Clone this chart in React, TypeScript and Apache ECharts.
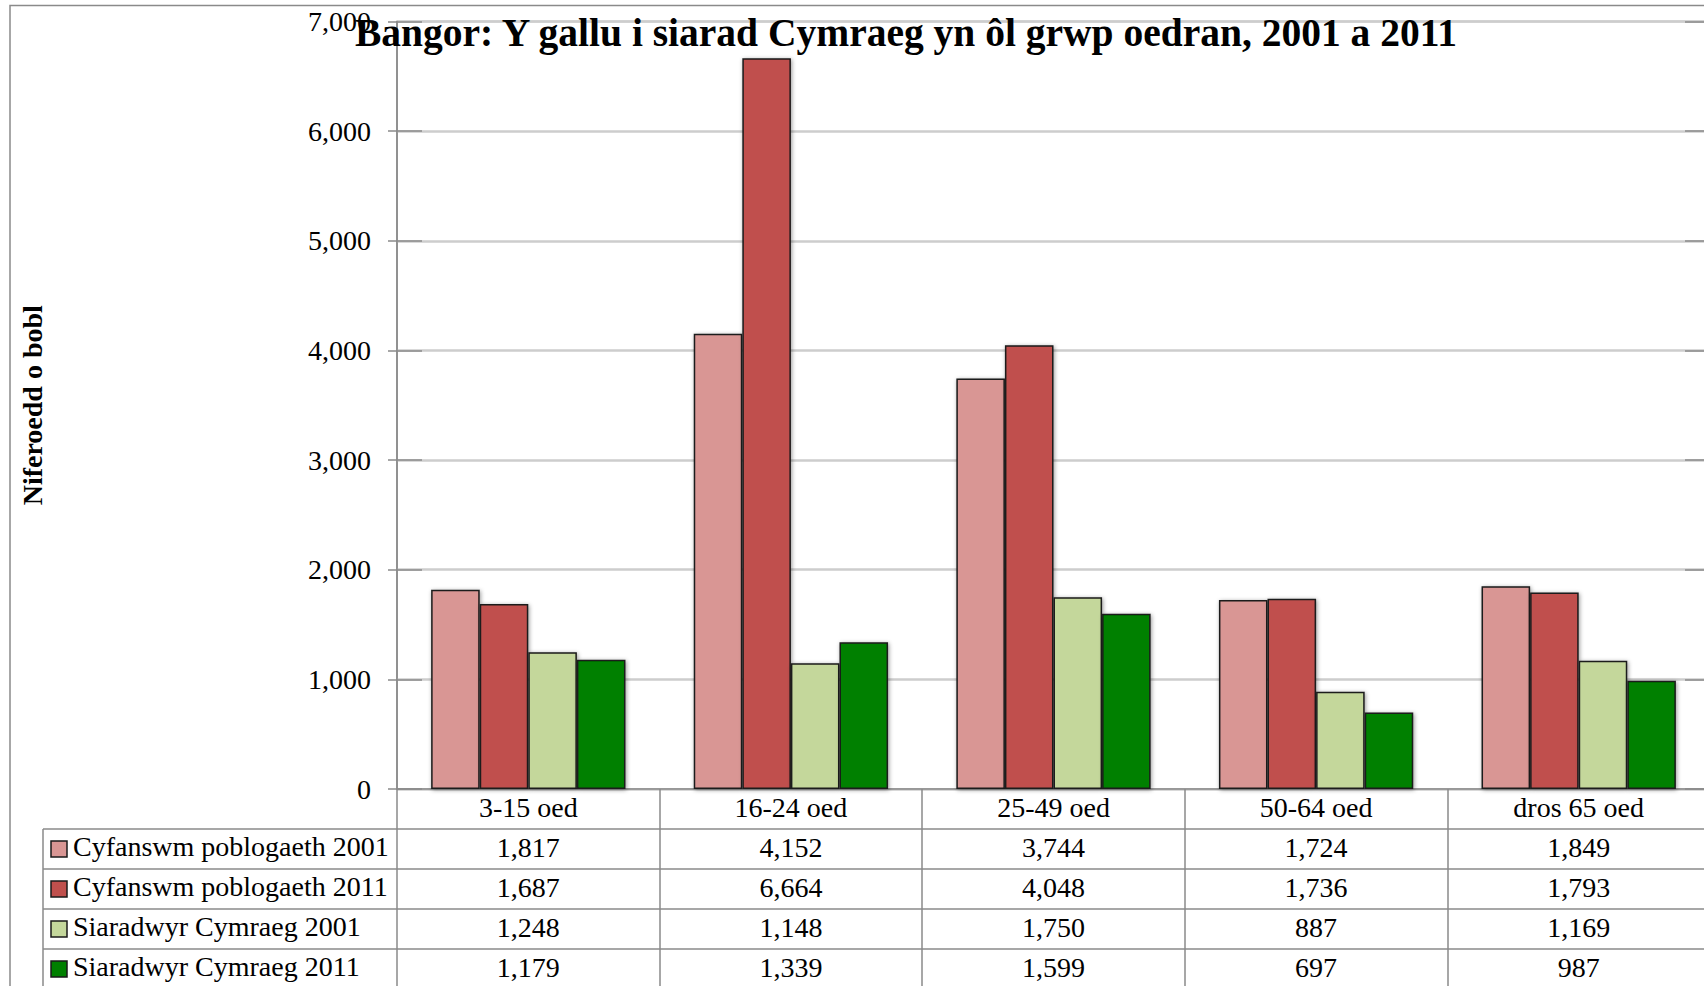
import React, { useEffect, useRef } from "react";
import * as echarts from "echarts";

const title = "Bangor: Y gallu i siarad Cymraeg yn ôl grwp oedran, 2001 a 2011";
const yAxisName = "Niferoedd o bobl";
const categories = ["3-15 oed", "16-24 oed", "25-49 oed", "50-64 oed", "dros 65 oed"];
const seriesNames = [
  "Cyfanswm poblogaeth 2001",
  "Cyfanswm poblogaeth 2011",
  "Siaradwyr Cymraeg 2001",
  "Siaradwyr Cymraeg 2011",
];
const pop2001 = [1817, 4152, 3744, 1724, 1849];
const pop2011 = [1687, 6664, 4048, 1736, 1793];
const cym2001 = [1248, 1148, 1750, 887, 1169];
const cym2011 = [1179, 1339, 1599, 697, 987];
const seriesColors = ["#D99694", "#C0504D", "#C4D79B", "#008000"];
const yMin = 0;
const yMax = 7000;
const yInterval = 1000;

const allSeries = [pop2001, pop2011, cym2001, cym2011];

const FONT = "'Liberation Serif', 'Times New Roman', serif";
const GRID_LEFT = 397;
const GRID_TOP = 21.5;
const GRID_H = 767.5;
const GRID_W = 1313;
const AXIS_Y = GRID_TOP + GRID_H;
const ROW_H = 40;
const TABLE_LEFT = 43;
const LINE_COLOR = "#8a8a8a";

const fmt = (v: number) => v.toLocaleString("en-US");

export default function App() {
  const ref = useRef<HTMLDivElement>(null);
  useEffect(() => {
    if (!ref.current) return;
    const chart = echarts.init(ref.current, null, { renderer: "svg" });

    const graphics: any[] = [];
    graphics.push({
      type: "rect",
      shape: { x: 10, y: 5.5, width: 2400, height: 2400 },
      style: { fill: "none", stroke: LINE_COLOR, lineWidth: 1.5 },
      z: 1,
    });
    for (let r = 1; r <= 5; r++) {
      const y = AXIS_Y + ROW_H * r;
      graphics.push({
        type: "line",
        shape: { x1: TABLE_LEFT, y1: y, x2: GRID_LEFT + GRID_W + 10, y2: y },
        style: { stroke: LINE_COLOR, lineWidth: 1.5 },
        z: 50,
      });
    }
    graphics.push({
      type: "line",
      shape: { x1: TABLE_LEFT, y1: AXIS_Y + ROW_H, x2: TABLE_LEFT, y2: AXIS_Y + ROW_H * 6 },
      style: { stroke: LINE_COLOR, lineWidth: 1.5 },
      z: 50,
    });
    seriesNames.forEach((name, i) => {
      const cy = AXIS_Y + ROW_H * (i + 1) + ROW_H / 2;
      graphics.push({
        type: "rect",
        shape: { x: 51, y: cy - 8, width: 16, height: 16 },
        style: { fill: seriesColors[i], stroke: "#1a1a1a", lineWidth: 1.5 },
        z: 60,
      });
      graphics.push({
        type: "text",
        x: 73,
        y: cy - 2.5,
        style: {
          text: name,
          font: `28px ${FONT}`,
          fill: "#000",
          textAlign: "left",
          textVerticalAlign: "middle",
        },
        z: 60,
      });
    });
    graphics.push({
      type: "text",
      x: 906,
      y: 33,
      style: {
        text: title,
        font: `bold 39.5px ${FONT}`,
        fill: "#000",
        textAlign: "center",
        textVerticalAlign: "middle",
      },
      z: 100,
    });
    graphics.push({
      type: "text",
      x: 32,
      y: GRID_TOP + GRID_H / 2,
      rotation: Math.PI / 2,
      style: {
        text: yAxisName,
        font: `bold 28px ${FONT}`,
        fill: "#000",
        textAlign: "center",
        textVerticalAlign: "middle",
      },
      z: 100,
    });

    const valueAxisBase = {
      type: "value",
      min: yMin,
      max: yMax,
      interval: yInterval,
    };

    chart.setOption({
      animation: false,
      backgroundColor: "#fff",
      grid: {
        left: GRID_LEFT,
        top: GRID_TOP,
        width: GRID_W,
        height: GRID_H,
        outerBoundsMode: "none",
        containLabel: false,
        show: true,
        borderColor: LINE_COLOR,
        borderWidth: 1.5,
        backgroundColor: "transparent",
      },
      xAxis: {
        type: "category",
        data: categories,
        boundaryGap: true,
        axisLine: { show: true, lineStyle: { color: LINE_COLOR, width: 1.5 } },
        axisTick: {
          show: true,
          interval: 0,
          alignWithLabel: false,
          length: ROW_H * 6,
          lineStyle: { color: LINE_COLOR, width: 1.5 },
        },
        axisLabel: {
          interval: 0,
          margin: -2,
          fontFamily: FONT,
          fontSize: 28,
          lineHeight: ROW_H,
          color: "#000",
          formatter: (value: string, idx: number) =>
            [value, ...allSeries.map((s) => fmt(s[idx]))].join("\n"),
        },
        splitLine: { show: false },
      },
      yAxis: [
        {
          ...valueAxisBase,
          position: "left",
          axisLine: { show: true, lineStyle: { color: LINE_COLOR, width: 1.5 } },
          axisTick: { show: true, inside: false, length: 9, lineStyle: { color: LINE_COLOR, width: 1.5 } },
          axisLabel: {
            margin: 26,
            fontFamily: FONT,
            fontSize: 28,
            color: "#000",
            formatter: (v: number) => fmt(v),
          },
          splitLine: { show: true, lineStyle: { color: "#cdcdcd", width: 2.5 } },
        },
        {
          ...valueAxisBase,
          position: "left",
          axisLine: { show: false },
          axisTick: { show: true, inside: true, length: 25, lineStyle: { color: LINE_COLOR, width: 1.5 } },
          axisLabel: { show: false },
          splitLine: { show: false },
        },
        {
          ...valueAxisBase,
          position: "right",
          axisLine: { show: false },
          axisTick: { show: true, inside: true, length: 25, lineStyle: { color: LINE_COLOR, width: 1.5 } },
          axisLabel: { show: false },
          splitLine: { show: false },
        },
      ],
      series: allSeries.map((data, i) => ({
        name: seriesNames[i],
        type: "bar",
        yAxisIndex: 0,
        data,
        barGap: "0%",
        barCategoryGap: "26%",
        itemStyle: {
          color: seriesColors[i],
          borderColor: "#1a1a1a",
          borderWidth: 1.5,
          shadowColor: "rgba(0,0,0,0.4)",
          shadowBlur: 4,
          shadowOffsetX: 1,
          shadowOffsetY: 1,
        },
        z: 3,
      })),
      graphic: graphics,
    });
    return () => chart.dispose();
  }, []);
  return (
    <div
      ref={ref}
      style={{ position: "absolute", left: 0, top: 0, width: 1704, height: 986, background: "#fff" }}
    />
  );
}
